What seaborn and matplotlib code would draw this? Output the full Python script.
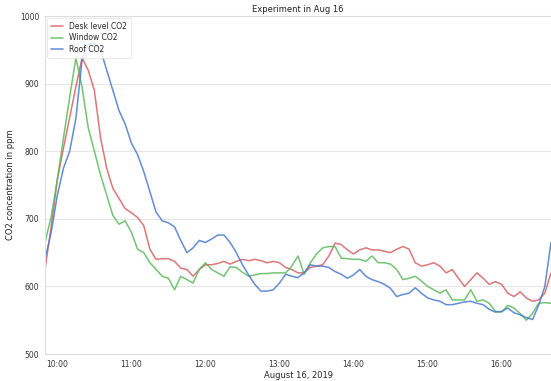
import matplotlib
matplotlib.use("Agg")
import matplotlib.pyplot as plt
import matplotlib.dates as mdates
import numpy as np
import pandas as pd
import seaborn as sns

start_time = "2019-08-16 09:50"
n_points = 83

desk_co2 = [625, 688, 758, 805, 850, 895, 938, 920, 890, 820, 775, 745, 730, 715, 709, 702, 690,
            655, 640, 641, 641, 637, 627, 625, 615, 625, 632, 632, 634, 637, 633, 637, 640, 638,
            640, 638, 635, 637, 635, 628, 625, 620, 620, 628, 630, 632, 645, 664, 662, 654, 648,
            654, 657, 654, 654, 652, 650, 655, 659, 655, 635, 630, 632, 635, 630, 620, 625, 612,
            600, 610, 620, 612, 603, 607, 603, 590, 585, 592, 583, 578, 580, 590, 620]

window_co2 = [665, 703, 758, 820, 880, 938, 895, 835, 800, 765, 735, 705, 692, 697, 680, 655, 650,
              635, 625, 615, 612, 595, 615, 610, 605, 625, 635, 625, 620, 615, 629, 628, 621, 615,
              617, 619, 619, 620, 620, 620, 630, 645, 618, 635, 648, 657, 659, 659, 642, 641, 640,
              640, 637, 645, 635, 635, 633, 625, 610, 612, 615, 608, 600, 595, 590, 595, 580, 580,
              580, 595, 578, 580, 575, 563, 562, 572, 568, 560, 550, 560, 575, 576, 575]

roof_co2 = [640, 680, 735, 775, 800, 848, 935, 958, 960, 950, 920, 890, 860, 840, 812, 795, 770,
            740, 710, 697, 694, 688, 668, 650, 657, 668, 665, 670, 676, 676, 665, 650, 632, 617,
            603, 593, 593, 595, 605, 618, 615, 613, 620, 632, 630, 630, 628, 622, 618, 612, 617,
            625, 615, 610, 607, 603, 597, 585, 588, 590, 598, 590, 583, 580, 578, 573, 573, 575,
            577, 578, 575, 573, 566, 562, 563, 568, 561, 558, 554, 551, 572, 600, 665]

series_names = ["Desk level CO2", "Window CO2", "Roof CO2"]
colors = ["#D65F5F", "#5CB85C", "#4878D0"]

times = pd.date_range(start_time, periods=n_points, freq="5min")
df = pd.DataFrame({"time": times, series_names[0]: desk_co2,
                   series_names[1]: window_co2, series_names[2]: roof_co2})
long = df.melt(id_vars="time", var_name="sensor", value_name="co2")

sns.set_style("whitegrid")
plt.rcParams["font.family"] = ["DejaVu Sans"]

fig = plt.figure(figsize=(5.51, 3.81), dpi=100)
ax = fig.add_axes([45 / 551, 1 - 354 / 381, 1 - 45 / 551, (354 - 16) / 381])

sns.lineplot(data=long, x="time", y="co2", hue="sensor", hue_order=series_names,
             palette=colors, linewidth=1.1, alpha=0.85, ax=ax)

ax.set_xlim(pd.Timestamp("2019-08-16 09:50"), pd.Timestamp("2019-08-16 16:40"))
ax.set_ylim(500, 1000)
ax.set_yticks([500, 600, 700, 800, 900, 1000])
ax.xaxis.set_major_locator(mdates.HourLocator())
ax.xaxis.set_major_formatter(mdates.DateFormatter("%H:%M"))
ax.grid(axis="x", visible=False)
ax.grid(axis="y", color="#e6e6e6", linewidth=0.8)
for s in ax.spines.values():
    s.set_color("#dddddd")
    s.set_linewidth(0.8)
ax.spines["right"].set_visible(False)

ax.tick_params(axis="both", labelsize=5.5, colors="#333333", length=0, pad=4)
ax.set_title("Experiment in Aug 16", fontsize=6, pad=3, color="#222222")
ax.set_xlabel("August 16, 2019", fontsize=6, labelpad=2, color="#222222")
ax.set_ylabel("CO2 concentration in ppm", fontsize=6, labelpad=4, color="#222222")

leg = ax.legend(loc="upper left", fontsize=5.5, frameon=True, handlelength=1.6,
                borderpad=0.5, labelspacing=0.3, borderaxespad=0.3)
leg.get_frame().set_edgecolor("#dddddd")
leg.get_frame().set_linewidth(0.6)

fig.savefig("out.png", dpi=100)
